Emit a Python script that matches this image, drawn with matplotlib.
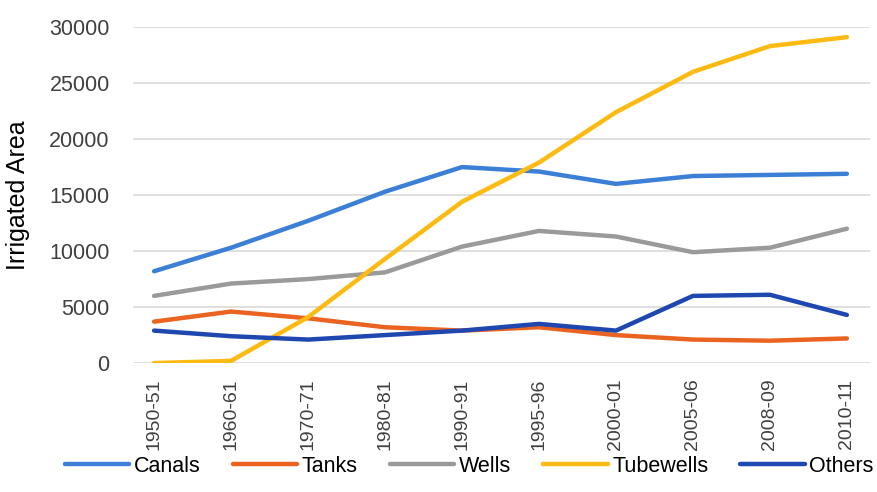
import matplotlib
matplotlib.use('Agg')
import matplotlib.pyplot as plt
import numpy as np

# Data
periods = ['1950-51', '1960-61', '1970-71', '1980-81', '1990-91',
           '1995-96', '2000-01', '2005-06', '2008-09', '2010-11']
canals = [8200, 10300, 12700, 15300, 17500, 17100, 16000, 16700, 16800, 16900]
tanks = [3700, 4600, 4000, 3200, 2900, 3200, 2500, 2100, 2000, 2200]
wells = [6000, 7100, 7500, 8100, 10400, 11800, 11300, 9900, 10300, 12000]
tubewells = [0, 200, 4100, 9300, 14400, 17900, 22400, 26000, 28300, 29100]
others = [2900, 2400, 2100, 2500, 2900, 3500, 2900, 6000, 6100, 4300]

series = ['Canals', 'Tanks', 'Wells', 'Tubewells', 'Others']
colors = ['#3C7FD6', '#EB6320', '#9A9A9A', '#FDBA12', '#1E47B0']

plt.rcParams['font.family'] = ['Liberation Sans', 'DejaVu Sans']

fig = plt.figure(figsize=(8.77, 4.92), dpi=100)
ax = fig.add_axes([0.152, 0.262, 0.840, 0.683])

x = np.arange(len(periods))
for name, vals, c in zip(series, [canals, tanks, wells, tubewells, others], colors):
    ax.plot(x, vals, color=c, lw=3.2, label=name, solid_capstyle='round')

ax.set_ylim(0, 30000)
ax.set_xlim(-0.27, 9.3)
ax.set_yticks(range(0, 30001, 5000))
ax.yaxis.grid(True, color='#d9d9d9', lw=1.2)
ax.set_axisbelow(True)
for s in ax.spines.values():
    s.set_visible(False)
ax.tick_params(length=0)
ax.tick_params(axis='y', labelsize=15.5, colors='#404040', pad=17)
ax.set_xticks(x)
ax.set_xticklabels(periods, rotation=90, fontsize=14, color='#404040')
ax.tick_params(axis='x', pad=11)
ax.set_ylabel('Irrigated Area', fontsize=18)
ax.yaxis.set_label_coords(-0.14, 0.5)

leg = fig.legend(loc='lower center', bbox_to_anchor=(0.535, -0.008), ncol=5, frameon=False,
                 handlelength=3.0, handletextpad=0.2, columnspacing=1.5,
                 prop={'size': 15.5})

fig.savefig('out.png', dpi=100)
